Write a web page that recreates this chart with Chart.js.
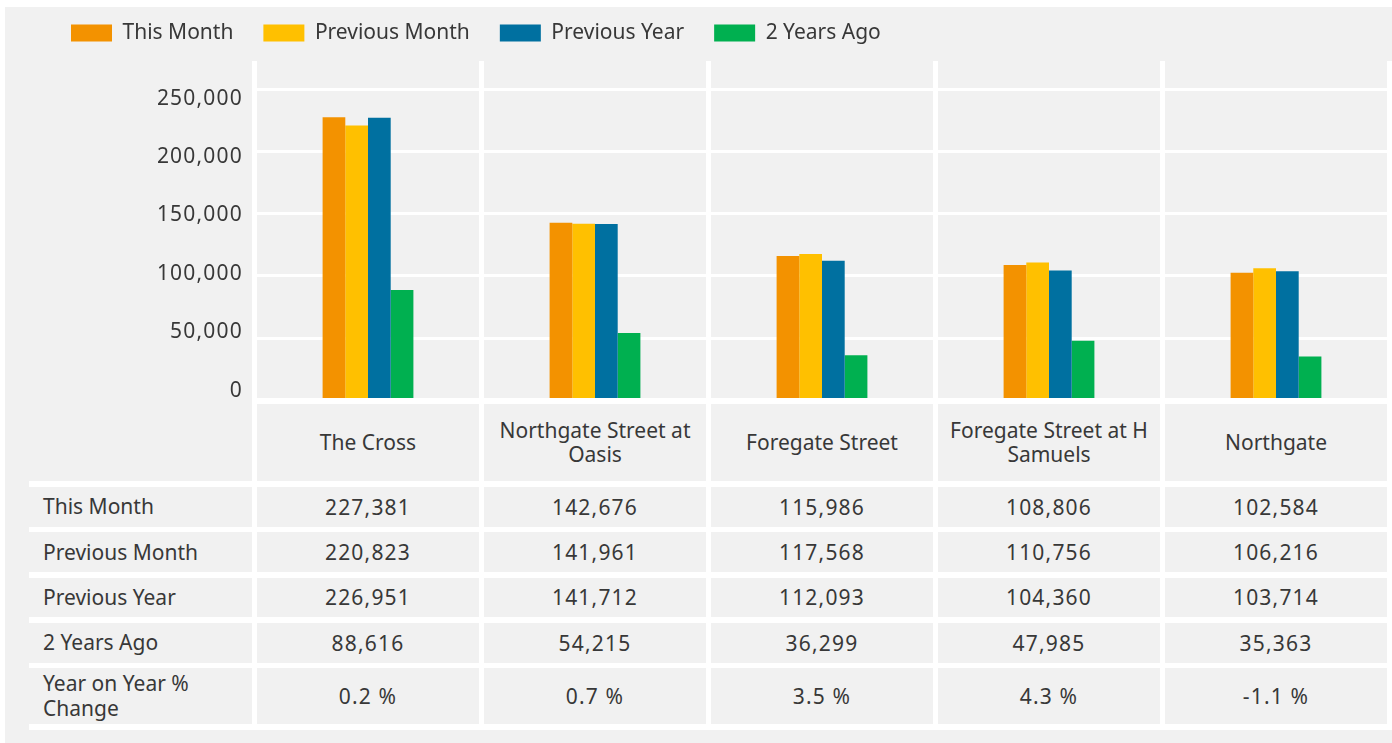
<!DOCTYPE html>
<html>
<head>
<meta charset="utf-8">
<script src="https://cdn.jsdelivr.net/npm/chart.js@4/dist/chart.umd.min.js"></script>
<style>
  html, body { margin: 0; padding: 0; background: #fff; }
  body { width: 1392px; height: 743px; position: relative; overflow: hidden;
         font-family: "Noto Sans", sans-serif; font-size: 21px; color: #383838; }
  #panel { position: absolute; left: 5px; top: 7px; width: 1387px; height: 736px; background: #f1f1f1; }
  #chart { position: absolute; left: 5px; top: 7px; }
  .white { position: absolute; background: #fff; }
  .cell { position: absolute; background: #f1f1f1; display: flex; align-items: center; box-sizing: border-box; }
  .head { justify-content: center; text-align: center; line-height: 24px; padding: 0 6px; }
  .label { padding: 0 20px 0 14px; line-height: 25px; }
  .val { justify-content: center; letter-spacing: 1.2px; }
</style>
</head>
<body>
<div id="panel"></div>
<canvas id="chart" width="1387" height="397"></canvas>
<div id="table"></div>
<script>
// data
const categories = ["The Cross", "Northgate Street at Oasis", "Foregate Street", "Foregate Street at H Samuels", "Northgate"];
const thisMonth = [227381, 142676, 115986, 108806, 102584];
const previousMonth = [220823, 141961, 117568, 110756, 106216];
const previousYear = [226951, 141712, 112093, 104360, 103714];
const twoYearsAgo = [88616, 54215, 36299, 47985, 35363];
const yoyChange = [0.2, 0.7, 3.5, 4.3, -1.1];
const yTicks = [0, 50000, 100000, 150000, 200000, 250000];

const seriesNames = ["This Month", "Previous Month", "Previous Year", "2 Years Ago"];
const seriesColors = ["#f39200", "#ffc000", "#0070a0", "#00b050"];
const seriesData = [thisMonth, previousMonth, previousYear, twoYearsAgo];

const font = { family: "Noto Sans", size: 21 };
const fmt = v => v.toLocaleString("en-US");

// legend needs a taller box than Chart.js gives it
const legendFit = {
  id: "legendFit",
  beforeLayout(chart) {
    const lg = chart.legend;
    if (lg && !lg._patched) {
      const fit = lg.fit;
      lg.fit = function () { fit.call(this); this.height = 68.5; };
      lg._patched = true;
    }
  }
};
// wide digits on the axis labels
const tickSpacing = {
  id: "tickSpacing",
  afterDatasetsDraw(chart) { chart.ctx.letterSpacing = "1.2px"; },
  afterDraw(chart) { chart.ctx.letterSpacing = "0px"; }
};

new Chart(document.getElementById("chart"), {
  type: "bar",
  data: {
    labels: categories,
    datasets: seriesNames.map((name, i) => ({
      label: name,
      data: seriesData[i],
      backgroundColor: seriesColors[i],
      borderWidth: 0,
      barPercentage: 1,
      categoryPercentage: 0.4,
      yAxisID: "y"
    }))
  },
  options: {
    responsive: false,
    animation: false,
    devicePixelRatio: 1,
    events: [],
    layout: { padding: { left: 36, right: 2.5, top: -14.5, bottom: 3.5 } },
    plugins: {
      tooltip: { enabled: false },
      legend: {
        position: "top",
        align: "start",
        labels: { boxWidth: 41, boxHeight: 17, padding: 30, color: "#383838", font: font }
      }
    },
    scales: {
      x: {
        grid: { offset: true, color: "#fff", lineWidth: 5, drawTicks: false },
        ticks: { display: false },
        border: { display: true, color: "#fff", width: 6, z: 1 },
        afterFit(s) { s.height = 0; s.paddingLeft = 0; s.paddingRight = 0; }
      },
      y: {
        position: "left",
        min: 0,
        max: 272500,
        grid: { color: "#fff", lineWidth: 3, drawTicks: false },
        border: { display: false },
        ticks: { display: false },
        afterBuildTicks(s) { s.ticks = yTicks.map(v => ({ value: v })); },
        afterFit(s) { s.width = 0; s.paddingTop = 0; s.paddingBottom = 0; }
      },
      // tick labels sit on their own axis, a little off the gridlines
      yl: {
        position: "left",
        min: -8476,
        max: 282192,
        grid: { display: false, drawTicks: false },
        border: { display: false },
        ticks: { padding: 11.5, color: "#383838", font: font, z: 2, callback: v => fmt(v) },
        afterBuildTicks(s) { s.ticks = yTicks.map(v => ({ value: v })); },
        afterFit(s) { s.width = 213.5; s.paddingTop = 0; s.paddingBottom = 0; }
      }
    }
  },
  plugins: [legendFit, tickSpacing]
});

// table under the chart
const table = document.getElementById("table");
const colLeft = categories.map((_, i) => 257 + i * 227);
const colWidth = 222;
const rowTop = [403.5, 486.5, 532, 577.5, 622.5, 668];
const rowHeight = [77.5, 40, 40, 39.5, 40, 56];

function box(cls, x, y, w, h, text) {
  const d = document.createElement("div");
  d.className = cls;
  d.style.left = x + "px";
  d.style.top = y + "px";
  d.style.width = w + "px";
  d.style.height = h + "px";
  if (text != null) d.textContent = text;
  table.appendChild(d);
}

box("white", 252, 403, 1140, 84);
box("white", 29, 481, 1363, 248.5);
categories.forEach((c, i) => box("cell head", colLeft[i], rowTop[0], colWidth, rowHeight[0], c));

const rows = seriesNames.map((n, i) => [n, seriesData[i].map(fmt)]);
rows.push(["Year on Year % Change", yoyChange.map(v => v.toFixed(1) + " %")]);
rows.forEach((r, j) => {
  const y = rowTop[j + 1], h = rowHeight[j + 1];
  box("cell label", 29, y, 223, h, r[0]);
  r[1].forEach((t, i) => box("cell val", colLeft[i], y, colWidth, h, t));
});
</script>
</body>
</html>
